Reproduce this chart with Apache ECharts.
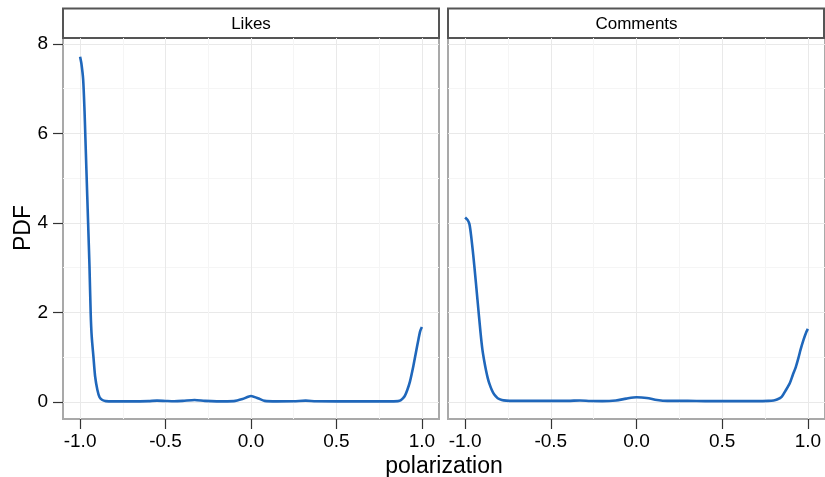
<!DOCTYPE html>
<html><head><meta charset="utf-8">
<script src="https://cdn.jsdelivr.net/npm/echarts@6/dist/echarts.min.js"></script>
<style>html,body{margin:0;padding:0;background:#fff}#c{width:825px;height:477px}</style>
</head><body><div id="c"></div>
<script>
var panels = ['Likes', 'Comments'];
var xTicks = [-1.0, -0.5, 0.0, 0.5, 1.0];
var xMinorGrid = [-1.0, -0.75, -0.5, -0.25, 0.0, 0.25, 0.5, 0.75, 1.0];
var yTicks = [0, 2, 4, 6, 8];
var yMinorGrid = [0, 1, 2, 3, 4, 5, 6, 7, 8];
var likes = [
  [-1.0, 7.71], [-0.992, 7.55], [-0.982, 7.2], [-0.974, 6.5], [-0.969, 5.9], [-0.963, 5.18],
  [-0.953, 3.99], [-0.945, 3.02], [-0.938, 1.98], [-0.932, 1.46], [-0.922, 1.01], [-0.912, 0.565],
  [-0.899, 0.27], [-0.886, 0.1], [-0.87, 0.04], [-0.85, 0.015], [-0.8, 0.01], [-0.7, 0.01],
  [-0.6, 0.015], [-0.55, 0.025], [-0.5, 0.018], [-0.45, 0.012], [-0.4, 0.02], [-0.33, 0.04],
  [-0.27, 0.02], [-0.2, 0.01], [-0.1, 0.015], [-0.05, 0.06], [0.0, 0.13], [0.04, 0.08],
  [0.08, 0.02], [0.15, 0.01], [0.25, 0.012], [0.32, 0.025], [0.38, 0.012], [0.5, 0.01],
  [0.6, 0.01], [0.7, 0.01], [0.8, 0.01], [0.86, 0.015], [0.875, 0.03], [0.89, 0.08],
  [0.9, 0.13], [0.915, 0.27], [0.93, 0.45], [0.95, 0.8], [0.965, 1.1], [0.98, 1.4],
  [0.99, 1.58], [1.0, 1.67]
];
var comments = [
  [-1.0, 4.12], [-0.985, 4.06], [-0.975, 3.97], [-0.967, 3.77], [-0.956, 3.4], [-0.946, 3.02],
  [-0.928, 2.28], [-0.91, 1.54], [-0.899, 1.16], [-0.888, 0.9], [-0.878, 0.7], [-0.868, 0.53],
  [-0.858, 0.4], [-0.845, 0.27], [-0.83, 0.16], [-0.81, 0.08], [-0.786, 0.04], [-0.76, 0.025],
  [-0.72, 0.02], [-0.6, 0.02], [-0.5, 0.02], [-0.4, 0.02], [-0.33, 0.03], [-0.27, 0.018],
  [-0.2, 0.015], [-0.12, 0.03], [-0.06, 0.07], [0.0, 0.1], [0.06, 0.085], [0.12, 0.04],
  [0.18, 0.02], [0.3, 0.02], [0.4, 0.015], [0.5, 0.015], [0.6, 0.015], [0.7, 0.015],
  [0.77, 0.02], [0.8, 0.03], [0.82, 0.05], [0.847, 0.11], [0.87, 0.25], [0.895, 0.42],
  [0.912, 0.6], [0.93, 0.78], [0.945, 0.98], [0.957, 1.16], [0.975, 1.39], [0.99, 1.55],
  [1.0, 1.63]
];
var seriesData = [likes, comments];

var FONT = 'Liberation Sans, Arial, sans-serif';
var XMIN = -1.1, XMAX = 1.1, YMIN = -0.385, YMAX = 8.13;
var gridPos = [{left: 63, top: 38, width: 376, height: 381}, {left: 448, top: 38, width: 377, height: 381}];

var grids = [], xAxes = [], yAxes = [], series = [], graphics = [];
gridPos.forEach(function (g, i) {
  grids.push({left: g.left, top: g.top, width: g.width, height: g.height, show: true,
    borderColor: '#a9a9a9', borderWidth: 2, backgroundColor: 'transparent', containLabel: false});
  xAxes.push({type: 'value', gridIndex: i, min: XMIN, max: XMAX,
    axisLine: {show: false, onZero: false}, axisLabel: {show: false},
    axisTick: {show: false, customValues: xMinorGrid},
    splitLine: {show: true, lineStyle: {color: ['#e9e9e9', '#f5f5f5'], width: 1}}});
  yAxes.push({type: 'value', gridIndex: i, min: YMIN, max: YMAX,
    axisLine: {show: false, onZero: false}, axisLabel: {show: false},
    axisTick: {show: false, customValues: yMinorGrid},
    splitLine: {show: true, lineStyle: {color: ['#e9e9e9', '#f5f5f5'], width: 1}}});
  xAxes.push({type: 'value', gridIndex: i, min: XMIN, max: XMAX, position: 'bottom',
    axisLine: {show: false, onZero: false},
    axisTick: {show: true, inside: false, length: 10, customValues: xTicks, lineStyle: {color: '#333', width: 1.2}},
    axisLabel: {show: true, customValues: xTicks, margin: 13, color: '#000', fontSize: 19, fontFamily: FONT,
      formatter: function (v) { return v.toFixed(1); }},
    splitLine: {show: false}});
  yAxes.push({type: 'value', gridIndex: i, min: YMIN, max: YMAX, position: 'left',
    axisLine: {show: false, onZero: false},
    axisTick: {show: i === 0, inside: false, length: 10, customValues: yTicks, lineStyle: {color: '#333', width: 1.2}},
    axisLabel: {show: i === 0, customValues: yTicks, margin: 15, color: '#000', fontSize: 19, fontFamily: FONT},
    splitLine: {show: false}});
  series.push({type: 'line', xAxisIndex: 2 * i + 1, yAxisIndex: 2 * i + 1, data: seriesData[i],
    showSymbol: false, smooth: 0.25,
    lineStyle: {color: '#1f67bb', width: 2.6}, silent: true, animation: false});
  graphics.push({type: 'rect', shape: {x: g.left, y: 8.5, width: Math.min(g.width, 825 - g.left - 1), height: 29.5},
    style: {fill: '#fff', stroke: '#555', lineWidth: 2}});
  graphics.push({type: 'text', x: g.left + g.width / 2, y: 24,
    style: {text: panels[i], font: '17px ' + FONT, fill: '#000', textAlign: 'center', textVerticalAlign: 'middle'}});
});
graphics.push({type: 'text', x: 444, y: 467, style: {text: 'polarization', font: '23px ' + FONT, fill: '#000',
  textAlign: 'center', textVerticalAlign: 'middle'}});
graphics.push({type: 'text', x: 24, y: 228, rotation: Math.PI / 2, style: {text: 'PDF', font: '23px ' + FONT, fill: '#000',
  textAlign: 'center', textVerticalAlign: 'middle'}});

var chart = echarts.init(document.getElementById('c'), null, {renderer: 'canvas'});
chart.setOption({animation: false, grid: grids, xAxis: xAxes, yAxis: yAxes, series: series, graphic: graphics});
</script></body></html>
